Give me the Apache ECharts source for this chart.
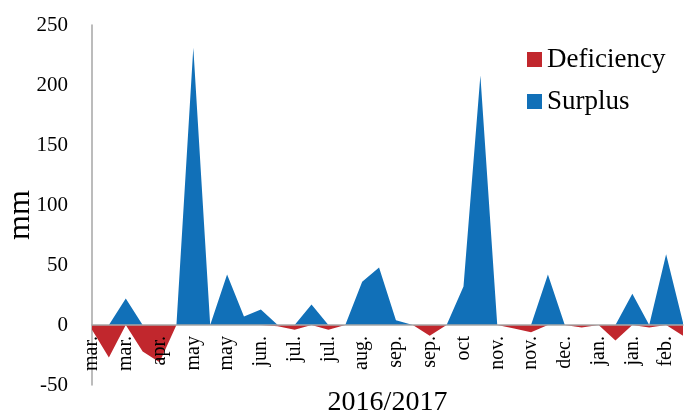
<!DOCTYPE html>
<html>
<head>
<meta charset="utf-8">
<script src="https://cdn.jsdelivr.net/npm/echarts@6/dist/echarts.min.js"></script>
<style>
  html, body { margin: 0; padding: 0; background: #fff; }
  #chart { width: 684px; height: 414px; }
</style>
</head>
<body>
<div id="chart"></div>
<script>
// three points (dekads) per month, mar 2016 - feb 2017
var months = ['mar.','mar.','mar.','apr.','apr.','apr.','may','may','may',
  'jun.','jun.','jun.','jul.','jul.','jul.','aug.','aug.','aug.',
  'sep.','sep.','sep.','oct','oct','oct','nov.','nov.','nov.',
  'dec.','dec.','dec.','jan.','jan.','jan.','feb.','feb.','feb.'];
var deficiency = [-4,-27,0,-22,-31,0,0,0,0,0,0,-1,-4,0,-4,0,0,0,
  0,0,-9,0,0,0,0,-3,-6,0,0,-2,0,-13,0,-2,0,-9];
var surplus = [0,0,22,0,0,0,231,0,42,7,13,0,0,17,0,0,36,48,
  4,0,0,0,32,208,0,0,0,42,0,0,0,0,26,0,59,2];
var yTicks = { min: -50, max: 250, step: 50 };

var serif = 'Liberation Serif';
var chart = echarts.init(document.getElementById('chart'));

var option = {
  animation: false,
  color: ['#C1272D', '#1170B8'],
  grid: { left: 92, right: 1, top: 25, bottom: 29, outerBoundsMode: 'none' },
  legend: {
    orient: 'vertical',
    left: 522,
    top: 41,
    icon: 'rect',
    itemWidth: 15,
    itemHeight: 15,
    itemGap: 15,
    textStyle: { fontFamily: serif, fontSize: 27, color: '#000' },
    data: ['Deficiency', 'Surplus']
  },
  xAxis: {
    type: 'category',
    z: 5,
    boundaryGap: false,
    data: months,
    name: '2016/2017',
    nameLocation: 'middle',
    nameGap: 4,
    nameMoveOverlap: false,
    nameTextStyle: { fontFamily: serif, fontSize: 28, color: '#000' },
    axisLine: { onZero: true, lineStyle: { color: '#A6A6A6', width: 1.5 } },
    axisTick: { show: false },
    axisLabel: {
      interval: 1,
      rotate: 90,
      margin: -49,
      fontFamily: serif,
      fontSize: 20,
      color: '#000'
    },
    splitLine: { show: false }
  },
  yAxis: {
    type: 'value',
    min: yTicks.min,
    max: yTicks.max,
    interval: yTicks.step,
    name: 'mm',
    nameLocation: 'middle',
    nameRotate: 90,
    nameGap: 55,
    nameMoveOverlap: false,
    nameTextStyle: { fontFamily: serif, fontSize: 32, color: '#000', padding: [0, 20, 0, 0] },
    axisLine: { show: true, lineStyle: { color: '#A6A6A6', width: 1.5 } },
    axisTick: { show: false },
    axisLabel: { margin: 24, fontFamily: serif, fontSize: 21, color: '#000' },
    splitLine: { show: false }
  },
  series: [
    {
      name: 'Deficiency',
      type: 'line',
      data: deficiency,
      showSymbol: false,
      symbol: 'none',
      lineStyle: { width: 0 },
      areaStyle: { opacity: 1 }
    },
    {
      name: 'Surplus',
      type: 'line',
      data: surplus,
      showSymbol: false,
      symbol: 'none',
      lineStyle: { width: 0 },
      areaStyle: { opacity: 1 }
    }
  ]
};
chart.setOption(option);
</script>
</body>
</html>
